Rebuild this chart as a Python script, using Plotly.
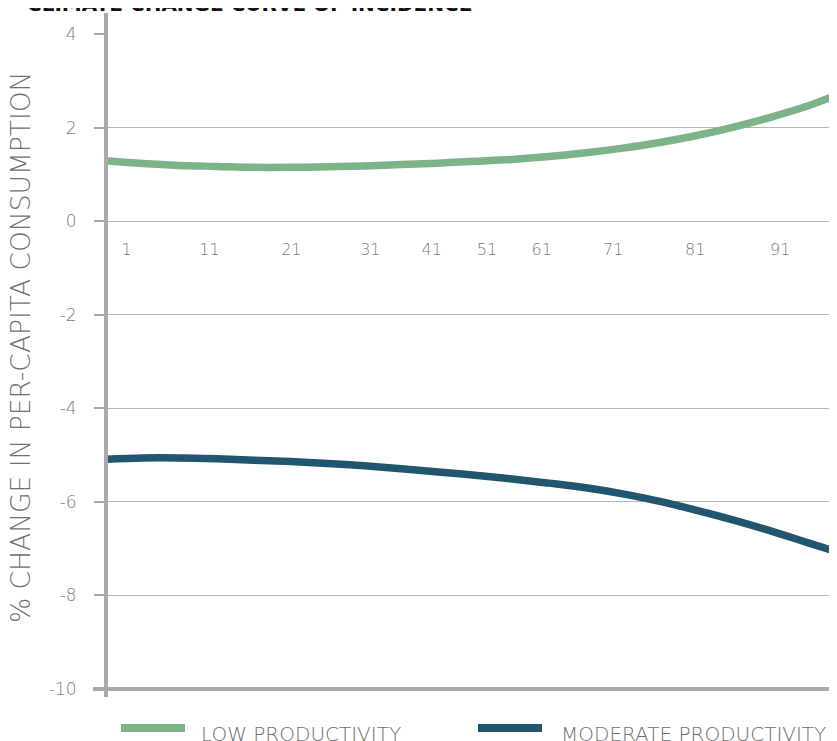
import plotly.graph_objects as go

# ---- data ----
x_vals = [1, 6, 11, 16, 21, 26, 31, 36, 41, 46, 51, 56, 61, 66, 71, 76, 81, 86, 91, 96, 100]
low_productivity = [1.29, 1.23, 1.19, 1.17, 1.15, 1.15, 1.16, 1.18, 1.21, 1.24, 1.28,
                    1.32, 1.38, 1.46, 1.56, 1.68, 1.83, 2.01, 2.22, 2.46, 2.70]
moderate_productivity = [-5.09, -5.06, -5.06, -5.08, -5.11, -5.14, -5.18, -5.23, -5.29, -5.36, -5.43,
                         -5.51, -5.60, -5.70, -5.83, -5.99, -6.18, -6.39, -6.62, -6.87, -7.07]

x_tick_labels = ["1", "11", "21", "31", "41", "51", "61", "71", "81", "91"]
x_tick_positions = [3.8, 15.0, 26.1, 36.8, 45.1, 52.6, 60.0, 69.7, 80.8, 92.3]
y_tick_vals = [4, 2, 0, -2, -4, -6, -8, -10]
y_tick_labels = ["4", "2", "0", "-2", "-4", "-6", "-8", "-10"]

series_names = ["LOW PRODUCTIVITY", "MODERATE PRODUCTIVITY"]
series_colors = ["#7db389", "#22566e"]

title_text = "CLIMATE CHANGE CURVE OF INCIDENCE"
y_title = "% CHANGE IN PER-CAPITA CONSUMPTION"

FONT = "'DejaVu Sans', sans-serif"
AXIS_GRAY = "#a9a9ad"
TEXT_GRAY = "#7a7a7a"

fig = go.Figure()
for name, ys, col in zip(series_names, [low_productivity, moderate_productivity], series_colors):
    fig.add_trace(go.Scatter(
        x=x_vals, y=ys, name=name, mode="lines",
        line=dict(color=col, width=7.5, shape="spline", smoothing=1.0),
        showlegend=False, hoverinfo="x+y+name",
    ))

fig.update_layout(
    width=829, height=733,
    margin=dict(l=98, r=0, t=26, b=52),
    paper_bgcolor="white", plot_bgcolor="white",
    font=dict(family=FONT, color=TEXT_GRAY),
    xaxis=dict(
        range=[1, 100], anchor="free", position=10 / 14,
        showgrid=False, zeroline=False, showline=False,
        tickmode="array", tickvals=x_tick_positions, ticktext=x_tick_labels,
        ticks="", ticklabelstandoff=17,
        tickfont=dict(size=16, color=TEXT_GRAY, family=FONT, weight=300),
    ),
    yaxis=dict(
        range=[-10, 4], showgrid=True, gridcolor="#b5b5b5", gridwidth=1.2,
        zeroline=False, showline=False,
        tickmode="array", tickvals=y_tick_vals, ticktext=y_tick_labels,
        ticks="outside", ticklen=11, tickwidth=1.5, tickcolor=AXIS_GRAY,
        ticklabelstandoff=14,
        tickfont=dict(size=17, color=TEXT_GRAY, family=FONT, weight=300),
    ),
)

shapes = [
    # left axis line
    dict(type="line", xref="paper", yref="paper", x0=0, x1=0, y0=-8 / 655, y1=1 + 21 / 655,
         line=dict(color=AXIS_GRAY, width=4), layer="above"),
    # bottom axis line
    dict(type="line", xref="paper", yref="paper", x0=-13 / 731, x1=1, y0=0, y1=0,
         line=dict(color=AXIS_GRAY, width=4), layer="above"),
    # legend samples
    dict(type="line", xref="paper", yref="paper", x0=(121 - 106) / 731, x1=(185 - 106) / 731,
         y0=(689 - 728) / 655, y1=(689 - 728) / 655,
         line=dict(color=series_colors[0], width=8)),
    dict(type="line", xref="paper", yref="paper", x0=(478 - 106) / 731, x1=(542 - 106) / 731,
         y0=(689 - 728) / 655, y1=(689 - 728) / 655,
         line=dict(color=series_colors[1], width=8)),
]
fig.update_layout(shapes=shapes)

annotations = [
    dict(text=f"<b>{title_text}</b>", xref="paper", yref="paper",
         x=(25 - 106) / 731, y=1.024, xanchor="left", yanchor="bottom",
         showarrow=False, font=dict(size=20, color="#111111", family=FONT)),
    dict(text=y_title, xref="paper", yref="paper", textangle=-90,
         x=(21 - 106) / 731, y=(689 - 348) / 655, xanchor="center", yanchor="middle",
         showarrow=False, font=dict(size=26.5, color="#707070", family=FONT, weight=300)),
    dict(text=series_names[0], xref="paper", yref="paper",
         x=(199 - 106) / 731, y=(689 - 734) / 655, xanchor="left", yanchor="middle",
         showarrow=False, font=dict(size=20, color="#6e6e6e", family=FONT, weight=300)),
    dict(text=series_names[1], xref="paper", yref="paper",
         x=(559 - 106) / 731, y=(689 - 734) / 655, xanchor="left", yanchor="middle",
         showarrow=False, font=dict(size=20, color="#6e6e6e", family=FONT, weight=300)),
]
fig.update_layout(annotations=annotations)

fig.write_html("out.html")
